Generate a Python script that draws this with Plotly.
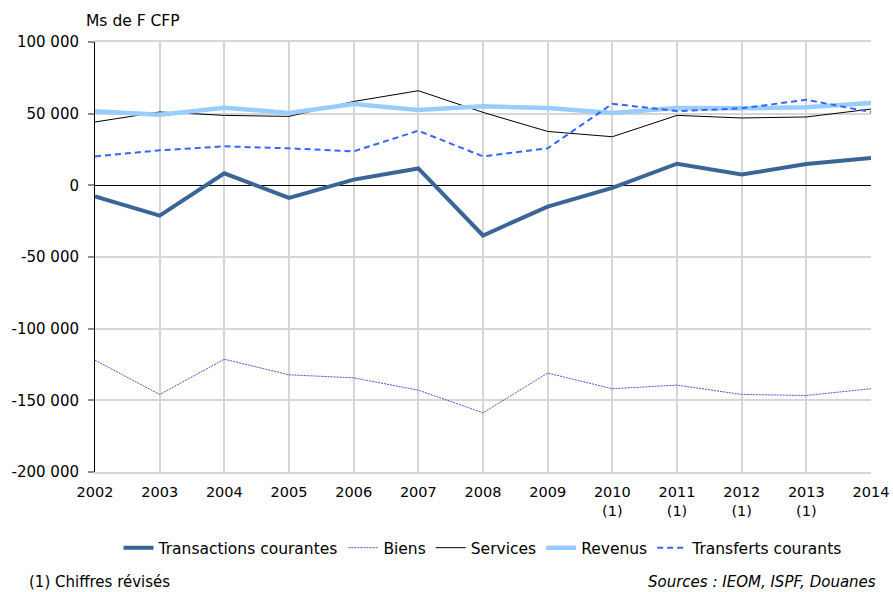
import plotly.graph_objects as go

years = [2002, 2003, 2004, 2005, 2006, 2007, 2008, 2009, 2010, 2011, 2012, 2013, 2014]
year_labels = ["2002", "2003", "2004", "2005", "2006", "2007", "2008", "2009",
               "2010<br>(1)", "2011<br>(1)", "2012<br>(1)", "2013<br>(1)", "2014"]

transactions = [-7700, -21100, 8400, -8800, 4000, 11800, -35000, -14800, -1800, 15100, 7500, 14900, 19100]
biens = [-122000, -145900, -121300, -132200, -134300, -142900, -158700, -131000, -141900, -139400, -145900, -146600, -141900]
services = [44200, 51200, 48800, 48100, 58500, 66000, 50900, 37600, 33900, 48800, 47000, 47700, 53200]
revenus = [51600, 49300, 54200, 50500, 56700, 52500, 55100, 53900, 50500, 53900, 53700, 54400, 57400]
transferts = [20200, 24400, 27200, 25800, 23700, 38100, 20200, 25800, 56900, 51800, 53700, 59700, 51100]

y_ticks = [100000, 50000, 0, -50000, -100000, -150000, -200000]
y_tick_labels = ["100 000", "50 000", "0", "-50 000", "-100 000", "-150 000", "-200 000"]

FONT = "DejaVu Sans"
GRID = "#d6d6d6"

fig = go.Figure()
fig.add_trace(go.Scatter(x=years, y=transactions, name="Transactions courantes", mode="lines",
                         line=dict(color="#3a6596", width=4)))
fig.add_trace(go.Scatter(x=years, y=biens, name="Biens", mode="lines",
                         line=dict(color="#5252c8", width=1, dash="2px,1px")))
fig.add_trace(go.Scatter(x=years, y=services, name="Services", mode="lines",
                         line=dict(color="#000000", width=1)))
fig.add_trace(go.Scatter(x=years, y=revenus, name="Revenus", mode="lines",
                         line=dict(color="#99ccff", width=4.5)))
fig.add_trace(go.Scatter(x=years, y=transferts, name="Transferts courants", mode="lines",
                         line=dict(color="#3366ff", width=2, dash="6px,4px")))

fig.update_layout(
    width=893, height=592,
    margin=dict(l=95, r=22, t=42, b=120, autoexpand=False),
    paper_bgcolor="white", plot_bgcolor="white",
    font=dict(family=FONT, size=15, color="black"),
    showlegend=True,
    legend=dict(orientation="h", x=0.5, xanchor="center", y=-0.177, yanchor="middle",
                font=dict(size=15.5), itemwidth=30, traceorder="normal"),
    xaxis=dict(range=[2002, 2014], tickmode="array", tickvals=years, ticktext=year_labels,
               showgrid=True, gridcolor=GRID, gridwidth=1.5,
               showline=True, mirror=True, linecolor=GRID, linewidth=1.5,
               zeroline=False, ticks="", automargin=False,
               tickfont=dict(size=14.5), ticklabelstandoff=6),
    xaxis2=dict(overlaying="x", anchor="free", position=2/3, range=[2002, 2014],
                tickmode="linear", tick0=2002, dtick=1, ticks="outside", ticklen=5,
                tickcolor="black", tickwidth=1, showticklabels=False, showgrid=False,
                showline=False, zeroline=False, automargin=False),
    yaxis=dict(range=[-200000, 100000], tickmode="array", tickvals=y_ticks, ticktext=y_tick_labels,
               showgrid=True, gridcolor=GRID, gridwidth=1.5,
               zeroline=True, zerolinecolor="black", zerolinewidth=1,
               showline=True, linecolor="black", linewidth=1, automargin=False,
               ticks="outside", ticklen=6, tickcolor="#8c8c8c", tickwidth=1.5,
               ticklabelstandoff=6, tickfont=dict(size=15)),
    annotations=[
        dict(text="Ms de F CFP", xref="paper", yref="paper", x=-0.014, y=1.0, yshift=10,
             xanchor="left", yanchor="bottom", showarrow=False, font=dict(size=15.5)),
        dict(text="(1) Chiffres révisés", xref="paper", yref="paper", x=-0.088, y=-0.255,
             xanchor="left", yanchor="middle", showarrow=False, font=dict(size=15)),
        dict(text="<i>Sources : IEOM, ISPF, Douanes</i>", xref="paper", yref="paper", x=1.009, y=-0.255,
             xanchor="right", yanchor="middle", showarrow=False, font=dict(size=15)),
    ],
)

fig.write_html("out.html", config={"displayModeBar": False},
               post_script="document.body.style.margin='0px';document.body.style.overflow='hidden';")
